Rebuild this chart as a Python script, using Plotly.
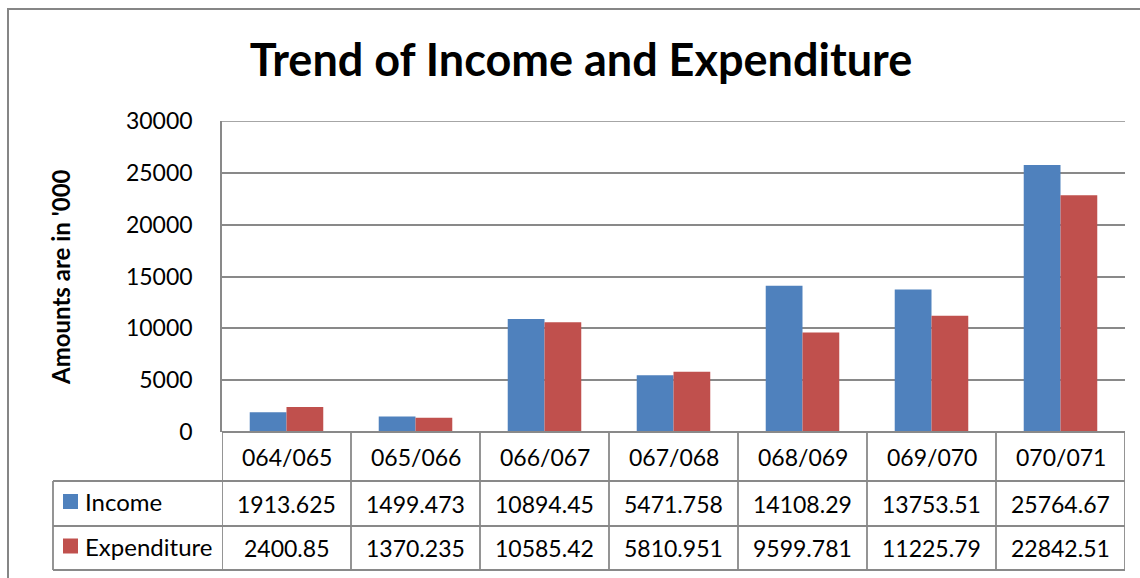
import plotly.graph_objects as go

# ---- data ----
categories = ["064/065", "065/066", "066/067", "067/068", "068/069", "069/070", "070/071"]
income = [1913.625, 1499.473, 10894.45, 5471.758, 14108.29, 13753.51, 25764.67]
expenditure = [2400.85, 1370.235, 10585.42, 5810.951, 9599.781, 11225.79, 22842.51]
series_names = ["Income", "Expenditure"]
y_ticks = [0, 5000, 10000, 15000, 20000, 25000, 30000]
title_text = "Trend of Income and Expenditure"
y_title = "Amounts are in '000"

# ---- style ----
W, H = 1140, 578
BLUE = "#4F81BD"
RED = "#C0504D"
LINE = "#898989"
FONT = "Lato"

def px(x):
    return x / W

def py(y):
    return 1 - y / H

plot_left, plot_right, plot_top, plot_bottom = 222, 1125, 121, 432
row_tops = [432, 481, 526, 570]
legend_left = 53

fig = go.Figure()
colors = [BLUE, RED]
for name, vals, col in zip(series_names, [income, expenditure], colors):
    fig.add_trace(go.Bar(x=categories, y=vals, name=name, marker=dict(color=col, line=dict(width=0))))

fig.update_layout(
    width=W, height=H,
    autosize=False,
    margin=dict(l=0, r=0, t=0, b=0, pad=0, autoexpand=False),
    paper_bgcolor="white", plot_bgcolor="white",
    barmode="group", bargap=0.43, bargroupgap=0,
    showlegend=False,
    font=dict(family=FONT, color="black", size=23),
    title=dict(text=title_text, x=px(581), xanchor="center", y=py(60), yanchor="middle",
               yref="container", xref="container",
               font=dict(family=FONT, size=45, color="black", weight="bold")),
    xaxis=dict(domain=[px(plot_left), px(plot_right)], range=[-0.5, len(categories) - 0.5],
               showticklabels=False, showgrid=False, zeroline=False, showline=False, ticks="",
               automargin=False),
    yaxis=dict(domain=[py(plot_bottom), py(plot_top)], range=[y_ticks[0], y_ticks[-1]], tickvals=y_ticks,
               ticktext=[str(v) for v in y_ticks], automargin=False,
               showgrid=True, gridcolor=LINE, gridwidth=1.5, zeroline=False,
               showline=True, linecolor=LINE, linewidth=1.5, ticks="",
               ticklabelstandoff=23, tickfont=dict(size=23, family=FONT)),
)

shapes = []
lw = 1.8
# top gridline (at the upper end of the value axis)
shapes.append(dict(type="line", xref="paper", yref="y", x0=px(plot_left), x1=px(plot_right),
                   y0=y_ticks[-1], y1=y_ticks[-1], line=dict(color=LINE, width=1.5), layer="below"))
# outer chart border (left and top)
shapes.append(dict(type="line", xref="paper", yref="paper", x0=px(8), x1=px(8), y0=py(8), y1=py(H + 5),
                   line=dict(color="#868686", width=2)))
shapes.append(dict(type="line", xref="paper", yref="paper", x0=px(8), x1=px(W + 5), y0=py(9), y1=py(9),
                   line=dict(color="#868686", width=2)))
# table horizontal lines
shapes.append(dict(type="line", xref="paper", yref="paper", x0=px(plot_left), x1=px(plot_right),
                   y0=py(row_tops[0]), y1=py(row_tops[0]), line=dict(color=LINE, width=lw)))
for yy in row_tops[1:]:
    shapes.append(dict(type="line", xref="paper", yref="paper", x0=px(legend_left), x1=px(plot_right),
                       y0=py(yy), y1=py(yy), line=dict(color=LINE, width=lw)))
# table vertical lines
shapes.append(dict(type="line", xref="paper", yref="paper", x0=px(legend_left), x1=px(legend_left),
                   y0=py(row_tops[1]), y1=py(row_tops[3]), line=dict(color=LINE, width=lw)))
for i in range(len(categories) + 1):
    shapes.append(dict(type="line", xref="x", yref="paper", x0=i - 0.5, x1=i - 0.5,
                       y0=py(row_tops[0]), y1=py(row_tops[3]), line=dict(color=LINE, width=lw)))
# legend keys
for r, col in enumerate(colors):
    cy = (row_tops[r + 1] + row_tops[r + 2]) / 2 - 2
    shapes.append(dict(type="rect", xref="paper", yref="paper", x0=px(63), x1=px(78),
                       y0=py(cy - 7.5), y1=py(cy + 7.5), fillcolor=col, line=dict(width=0)))

annotations = []
# y title
annotations.append(dict(text=y_title, xref="paper", yref="paper", x=px(60), y=py(277),
                        showarrow=False, textangle=-90, xanchor="center", yanchor="middle",
                        font=dict(family=FONT, size=24, color="black", weight="bold")))
# header row
hc = (row_tops[0] + row_tops[1]) / 2
for c in categories:
    annotations.append(dict(text=c, xref="x", yref="paper", x=c, y=py(hc), showarrow=False,
                            xanchor="center", yanchor="middle", font=dict(size=23)))
# data rows
for r, (name, vals) in enumerate(zip(series_names, [income, expenditure])):
    rc = (row_tops[r + 1] + row_tops[r + 2]) / 2
    annotations.append(dict(text=name, xref="paper", yref="paper", x=px(83), y=py(rc - 2), showarrow=False,
                            xanchor="left", yanchor="middle", font=dict(size=24)))
    for c, v in zip(categories, vals):
        annotations.append(dict(text=f"{v:.7g}", xref="x", yref="paper", x=c, y=py(rc), showarrow=False,
                                xanchor="center", yanchor="middle", font=dict(size=23)))

fig.update_layout(shapes=shapes, annotations=annotations)
fig.write_html("out.html")
